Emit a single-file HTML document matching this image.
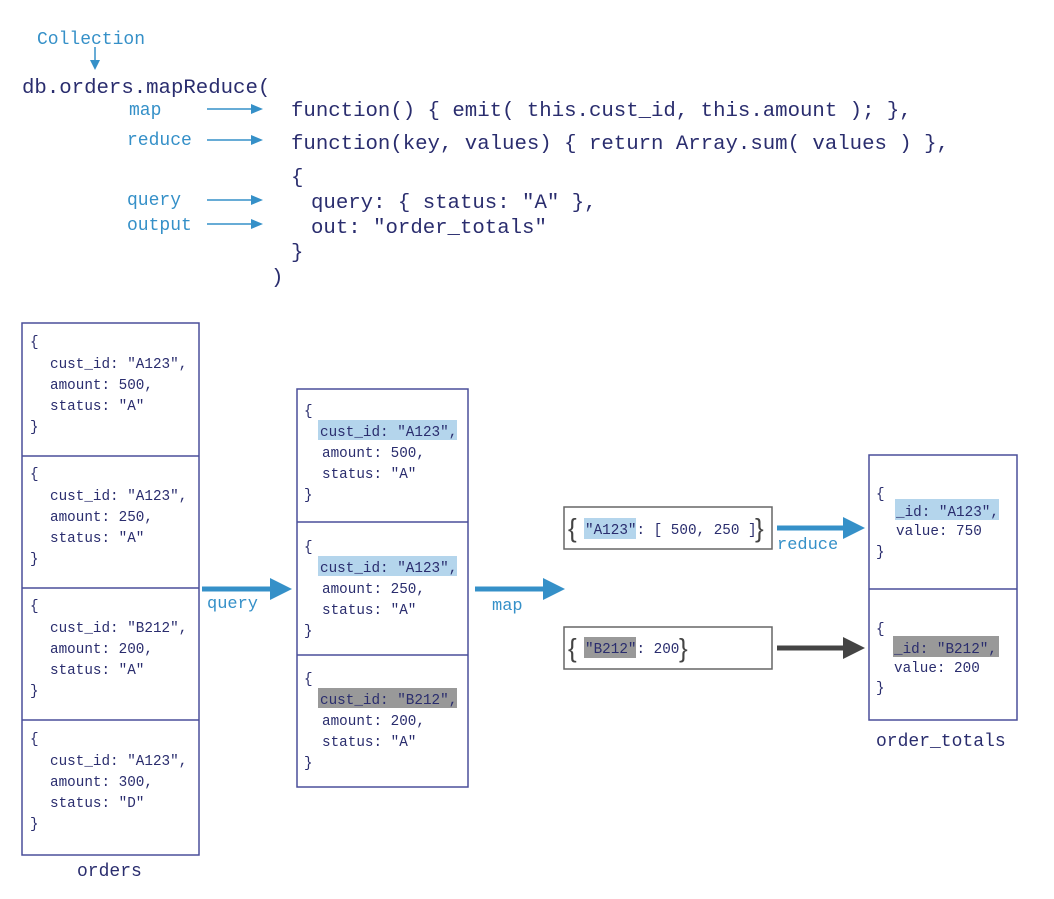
<!DOCTYPE html>
<html><head><meta charset="utf-8"><style>
html,body{margin:0;padding:0;background:#fff;}
svg text{font-family:"Liberation Mono","DejaVu Sans Mono",monospace;}
</style></head><body>
<svg width="1054" height="894" viewBox="0 0 1054 894" xmlns="http://www.w3.org/2000/svg">
<!-- top code -->
<g fill="#3590c8" font-size="18">
<text x="37" y="44">Collection</text>
<text x="129" y="115">map</text>
<text x="127" y="145">reduce</text>
<text x="127" y="205">query</text>
<text x="127" y="230">output</text>
</g>
<g stroke="#3590c8" stroke-width="1.5">
<line x1="95" y1="47" x2="95" y2="62"/>
<line x1="207" y1="109" x2="252" y2="109"/>
<line x1="207" y1="140" x2="252" y2="140"/>
<line x1="207" y1="200" x2="252" y2="200"/>
<line x1="207" y1="224" x2="252" y2="224"/>
</g>
<g fill="#3590c8">
<path d="M90,60 L100,60 L95,70 z"/>
<path d="M251,104 L263,109 L251,114 z"/>
<path d="M251,135 L263,140 L251,145 z"/>
<path d="M251,195 L263,200 L251,205 z"/>
<path d="M251,219 L263,224 L251,229 z"/>
</g>
<g fill="#2a2d6e" font-size="20.7">
<text x="22" y="93">db.orders.mapReduce(</text>
<text x="291" y="116">function() { emit( this.cust_id, this.amount ); },</text>
<text x="291" y="149">function(key, values) { return Array.sum( values ) },</text>
<text x="291" y="183">{</text>
<text x="311" y="208">query: { status: "A" },</text>
<text x="311" y="233">out: "order_totals"</text>
<text x="291" y="258">}</text>
<text x="271" y="283">)</text>
</g>
<g fill="none" stroke="#4a4f9a" stroke-width="1.5">
<rect x="22" y="323" width="177" height="532"/>
<line x1="22" y1="456" x2="199" y2="456"/>
<line x1="22" y1="588" x2="199" y2="588"/>
<line x1="22" y1="720" x2="199" y2="720"/>
<rect x="297" y="389" width="171" height="398"/>
<line x1="297" y1="522" x2="468" y2="522"/>
<line x1="297" y1="655" x2="468" y2="655"/>
<rect x="869" y="455" width="148" height="265"/>
<line x1="869" y1="589" x2="1017" y2="589"/>
</g>
<g fill="none" stroke="#666" stroke-width="1.5">
<rect x="564" y="507" width="208" height="42"/>
<rect x="564" y="627" width="208" height="42"/>
</g>
<g fill="#b4d5ec">
<rect x="318" y="420" width="139" height="20"/>
<rect x="318" y="556" width="139" height="20"/>
<rect x="584" y="518" width="52" height="21"/>
<rect x="895" y="499" width="104" height="21"/>
</g>
<g fill="#999">
<rect x="318" y="688" width="139" height="20"/>
<rect x="584" y="637" width="52" height="21"/>
<rect x="893" y="636" width="106" height="21"/>
</g>
<g fill="#2a2d6e" font-size="14.3">
<text x="30" y="346">{</text><text x="50" y="368">cust_id: "A123",</text><text x="50" y="389">amount: 500,</text><text x="50" y="410">status: "A"</text><text x="30" y="431">}</text>
<text x="30" y="478">{</text><text x="50" y="500">cust_id: "A123",</text><text x="50" y="521">amount: 250,</text><text x="50" y="542">status: "A"</text><text x="30" y="563">}</text>
<text x="30" y="610">{</text><text x="50" y="632">cust_id: "B212",</text><text x="50" y="653">amount: 200,</text><text x="50" y="674">status: "A"</text><text x="30" y="695">}</text>
<text x="30" y="743">{</text><text x="50" y="765">cust_id: "A123",</text><text x="50" y="786">amount: 300,</text><text x="50" y="807">status: "D"</text><text x="30" y="828">}</text>

<text x="304" y="415">{</text><text x="320" y="436">cust_id: "A123",</text><text x="322" y="457">amount: 500,</text><text x="322" y="478">status: "A"</text><text x="304" y="499">}</text>
<text x="304" y="551">{</text><text x="320" y="572">cust_id: "A123",</text><text x="322" y="593">amount: 250,</text><text x="322" y="614">status: "A"</text><text x="304" y="635">}</text>
<text x="304" y="683">{</text><text x="320" y="704">cust_id: "B212",</text><text x="322" y="725">amount: 200,</text><text x="322" y="746">status: "A"</text><text x="304" y="767">}</text>

<text x="585" y="534">"A123": [ 500, 250 ]</text>
<text x="585" y="653">"B212": 200</text>

<text x="876" y="498">{</text><text x="896" y="516">_id: "A123",</text><text x="896" y="535">value: 750</text><text x="876" y="556">}</text>
<text x="876" y="633">{</text><text x="894" y="653">_id: "B212",</text><text x="894" y="672">value: 200</text><text x="876" y="692">}</text>
</g>
<g fill="#444" font-size="26">
<text x="568" y="537" style="font-family:'Liberation Sans',sans-serif">{</text>
<text x="755" y="537" style="font-family:'Liberation Sans',sans-serif">}</text>
<text x="568" y="657" style="font-family:'Liberation Sans',sans-serif">{</text>
<text x="679" y="657" style="font-family:'Liberation Sans',sans-serif">}</text>
</g>
<g stroke-width="5">
<line x1="202" y1="589" x2="272" y2="589" stroke="#3590c8"/>
<line x1="475" y1="589" x2="545" y2="589" stroke="#3590c8"/>
<line x1="777" y1="528" x2="845" y2="528" stroke="#3590c8"/>
<line x1="777" y1="648" x2="845" y2="648" stroke="#444"/>
</g>
<path d="M270,578 L292,589 L270,600 z" fill="#3590c8"/>
<path d="M543,578 L565,589 L543,600 z" fill="#3590c8"/>
<path d="M843,517 L865,528 L843,539 z" fill="#3590c8"/>
<path d="M843,637 L865,648 L843,659 z" fill="#444"/>
<g fill="#3590c8" font-size="17">
<text x="207" y="608">query</text>
<text x="492" y="610">map</text>
<text x="777" y="549">reduce</text>
</g>
<g fill="#2a2d6e" font-size="18">
<text x="77" y="876">orders</text>
<text x="876" y="746">order_totals</text>
</g>
</svg>
</body></html>
